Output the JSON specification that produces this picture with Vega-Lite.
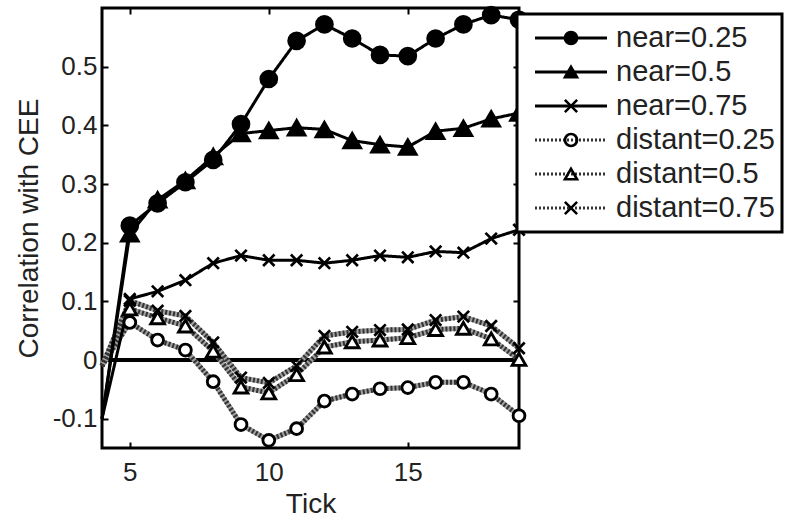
{
  "$schema": "https://vega.github.io/schema/vega-lite/v6.json",
  "width": 417,
  "height": 440,
  "autosize": {"type": "none"},
  "padding": {"left": 102, "top": 8, "right": 273, "bottom": 76},
  "config": {
    "font": "Liberation Sans",
    "view": {"stroke": "black", "strokeWidth": 3},
    "legend": {"strokeWidth": 3}
  },
  "data": {"values": [
    {"t":4,"v":-0.1,"series":"near=0.25","group":"near"},
    {"t":5,"v":0.229,"series":"near=0.25","group":"near"},
    {"t":6,"v":0.267,"series":"near=0.25","group":"near"},
    {"t":7,"v":0.303,"series":"near=0.25","group":"near"},
    {"t":8,"v":0.341,"series":"near=0.25","group":"near"},
    {"t":9,"v":0.402,"series":"near=0.25","group":"near"},
    {"t":10,"v":0.479,"series":"near=0.25","group":"near"},
    {"t":11,"v":0.544,"series":"near=0.25","group":"near"},
    {"t":12,"v":0.572,"series":"near=0.25","group":"near"},
    {"t":13,"v":0.548,"series":"near=0.25","group":"near"},
    {"t":14,"v":0.520,"series":"near=0.25","group":"near"},
    {"t":15,"v":0.518,"series":"near=0.25","group":"near"},
    {"t":16,"v":0.548,"series":"near=0.25","group":"near"},
    {"t":17,"v":0.572,"series":"near=0.25","group":"near"},
    {"t":18,"v":0.588,"series":"near=0.25","group":"near"},
    {"t":19,"v":0.580,"series":"near=0.25","group":"near"},
    {"t":4,"v":-0.1,"series":"near=0.5","group":"near"},
    {"t":5,"v":0.215,"series":"near=0.5","group":"near"},
    {"t":6,"v":0.273,"series":"near=0.5","group":"near"},
    {"t":7,"v":0.306,"series":"near=0.5","group":"near"},
    {"t":8,"v":0.347,"series":"near=0.5","group":"near"},
    {"t":9,"v":0.386,"series":"near=0.5","group":"near"},
    {"t":10,"v":0.391,"series":"near=0.5","group":"near"},
    {"t":11,"v":0.396,"series":"near=0.5","group":"near"},
    {"t":12,"v":0.393,"series":"near=0.5","group":"near"},
    {"t":13,"v":0.374,"series":"near=0.5","group":"near"},
    {"t":14,"v":0.367,"series":"near=0.5","group":"near"},
    {"t":15,"v":0.363,"series":"near=0.5","group":"near"},
    {"t":16,"v":0.390,"series":"near=0.5","group":"near"},
    {"t":17,"v":0.395,"series":"near=0.5","group":"near"},
    {"t":18,"v":0.411,"series":"near=0.5","group":"near"},
    {"t":19,"v":0.421,"series":"near=0.5","group":"near"},
    {"t":4,"v":-0.1,"series":"near=0.75","group":"near"},
    {"t":5,"v":0.104,"series":"near=0.75","group":"near"},
    {"t":6,"v":0.117,"series":"near=0.75","group":"near"},
    {"t":7,"v":0.136,"series":"near=0.75","group":"near"},
    {"t":8,"v":0.165,"series":"near=0.75","group":"near"},
    {"t":9,"v":0.178,"series":"near=0.75","group":"near"},
    {"t":10,"v":0.170,"series":"near=0.75","group":"near"},
    {"t":11,"v":0.170,"series":"near=0.75","group":"near"},
    {"t":12,"v":0.165,"series":"near=0.75","group":"near"},
    {"t":13,"v":0.170,"series":"near=0.75","group":"near"},
    {"t":14,"v":0.178,"series":"near=0.75","group":"near"},
    {"t":15,"v":0.175,"series":"near=0.75","group":"near"},
    {"t":16,"v":0.185,"series":"near=0.75","group":"near"},
    {"t":17,"v":0.183,"series":"near=0.75","group":"near"},
    {"t":18,"v":0.207,"series":"near=0.75","group":"near"},
    {"t":19,"v":0.222,"series":"near=0.75","group":"near"},
    {"t":4,"v":-0.01,"series":"distant=0.25","group":"distant"},
    {"t":5,"v":0.064,"series":"distant=0.25","group":"distant"},
    {"t":6,"v":0.034,"series":"distant=0.25","group":"distant"},
    {"t":7,"v":0.017,"series":"distant=0.25","group":"distant"},
    {"t":8,"v":-0.037,"series":"distant=0.25","group":"distant"},
    {"t":9,"v":-0.110,"series":"distant=0.25","group":"distant"},
    {"t":10,"v":-0.137,"series":"distant=0.25","group":"distant"},
    {"t":11,"v":-0.117,"series":"distant=0.25","group":"distant"},
    {"t":12,"v":-0.070,"series":"distant=0.25","group":"distant"},
    {"t":13,"v":-0.058,"series":"distant=0.25","group":"distant"},
    {"t":14,"v":-0.049,"series":"distant=0.25","group":"distant"},
    {"t":15,"v":-0.047,"series":"distant=0.25","group":"distant"},
    {"t":16,"v":-0.038,"series":"distant=0.25","group":"distant"},
    {"t":17,"v":-0.038,"series":"distant=0.25","group":"distant"},
    {"t":18,"v":-0.058,"series":"distant=0.25","group":"distant"},
    {"t":19,"v":-0.095,"series":"distant=0.25","group":"distant"},
    {"t":4,"v":-0.01,"series":"distant=0.5","group":"distant"},
    {"t":5,"v":0.087,"series":"distant=0.5","group":"distant"},
    {"t":6,"v":0.072,"series":"distant=0.5","group":"distant"},
    {"t":7,"v":0.058,"series":"distant=0.5","group":"distant"},
    {"t":8,"v":0.015,"series":"distant=0.5","group":"distant"},
    {"t":9,"v":-0.046,"series":"distant=0.5","group":"distant"},
    {"t":10,"v":-0.056,"series":"distant=0.5","group":"distant"},
    {"t":11,"v":-0.025,"series":"distant=0.5","group":"distant"},
    {"t":12,"v":0.022,"series":"distant=0.5","group":"distant"},
    {"t":13,"v":0.031,"series":"distant=0.5","group":"distant"},
    {"t":14,"v":0.034,"series":"distant=0.5","group":"distant"},
    {"t":15,"v":0.038,"series":"distant=0.5","group":"distant"},
    {"t":16,"v":0.052,"series":"distant=0.5","group":"distant"},
    {"t":17,"v":0.054,"series":"distant=0.5","group":"distant"},
    {"t":18,"v":0.036,"series":"distant=0.5","group":"distant"},
    {"t":19,"v":0.001,"series":"distant=0.5","group":"distant"},
    {"t":4,"v":-0.01,"series":"distant=0.75","group":"distant"},
    {"t":5,"v":0.101,"series":"distant=0.75","group":"distant"},
    {"t":6,"v":0.084,"series":"distant=0.75","group":"distant"},
    {"t":7,"v":0.075,"series":"distant=0.75","group":"distant"},
    {"t":8,"v":0.030,"series":"distant=0.75","group":"distant"},
    {"t":9,"v":-0.030,"series":"distant=0.75","group":"distant"},
    {"t":10,"v":-0.039,"series":"distant=0.75","group":"distant"},
    {"t":11,"v":-0.010,"series":"distant=0.75","group":"distant"},
    {"t":12,"v":0.041,"series":"distant=0.75","group":"distant"},
    {"t":13,"v":0.048,"series":"distant=0.75","group":"distant"},
    {"t":14,"v":0.051,"series":"distant=0.75","group":"distant"},
    {"t":15,"v":0.052,"series":"distant=0.75","group":"distant"},
    {"t":16,"v":0.068,"series":"distant=0.75","group":"distant"},
    {"t":17,"v":0.074,"series":"distant=0.75","group":"distant"},
    {"t":18,"v":0.058,"series":"distant=0.75","group":"distant"},
    {"t":19,"v":0.020,"series":"distant=0.75","group":"distant"}
  ]},
  "resolve": {"axis": {"x": "independent", "y": "independent"}},
  "layer": [
    {
      "mark": {"type": "rule", "color": "black", "strokeWidth": 2.5},
      "encoding": {
        "y": {"datum": 0, "type": "quantitative", "scale": {"domain": [-0.15, 0.6], "nice": false, "zero": false}, "axis": null}
      }
    },
    {
      "transform": [{"filter": "datum.group == 'distant'"}],
      "mark": {"type": "line", "color": "#a0a0a0", "strokeWidth": 5},
      "encoding": {
        "x": {"field": "t", "type": "quantitative", "scale": {"domain": [4, 19], "nice": false, "zero": false}, "axis": null},
        "y": {"field": "v", "type": "quantitative", "scale": {"domain": [-0.15, 0.6], "nice": false, "zero": false}, "axis": null},
        "detail": {"field": "series"}
      }
    },
    {
      "transform": [{"filter": "datum.group == 'distant'"}],
      "mark": {"type": "line", "strokeWidth": 5},
      "encoding": {
        "x": {"field": "t", "type": "quantitative", "axis": null},
        "y": {"field": "v", "type": "quantitative", "axis": null},
        "color": {"field": "series", "type": "nominal",
          "scale": {"domain": ["near=0.25","near=0.5","near=0.75","distant=0.25","distant=0.5","distant=0.75"], "range": ["black","black","black","#333333","#333333","#333333"]},
          "legend": {"orient": "none", "legendX": 415, "legendY": 6, "title": null, "symbolType": "stroke", "symbolSize": 5184, "symbolStrokeWidth": 3, "symbolOffset": 9.5, "labelOffset": 7.5, "labelFontSize": 29, "labelColor": "#222222", "labelLimit": 400, "clipHeight": 34, "rowPadding": 0, "padding": 7, "fillColor": "white", "strokeColor": "black"}},
        "strokeDash": {"field": "series", "type": "nominal",
          "scale": {"domain": ["near=0.25","near=0.5","near=0.75","distant=0.25","distant=0.5","distant=0.75"], "range": [[1,0],[1,0],[1,0],[2,2],[2,2],[2,2]]},
          "legend": {"orient": "none", "legendX": 415, "legendY": 6, "title": null, "symbolType": "stroke", "symbolSize": 5184, "symbolStrokeWidth": 3, "symbolOffset": 9.5, "labelOffset": 7.5, "labelFontSize": 29, "labelColor": "#222222", "labelLimit": 400, "clipHeight": 34, "rowPadding": 0, "padding": 7, "fillColor": "white", "strokeColor": "black"}}
      }
    },
    {
      "transform": [{"filter": "datum.group == 'near'"}],
      "mark": {"type": "line", "strokeWidth": 3},
      "encoding": {
        "x": {"field": "t", "type": "quantitative",
          "axis": {"orient": "bottom", "values": [5, 10, 15], "title": "Tick", "grid": false, "domain": false, "tickSize": -6, "tickWidth": 2, "tickColor": "black", "labelFontSize": 26, "labelPadding": 17, "labelColor": "#222222", "labelFlush": false, "titleFontSize": 28, "titleFontWeight": "normal", "titleColor": "#222222", "titlePadding": 5}},
        "y": {"field": "v", "type": "quantitative",
          "axis": {"orient": "left", "values": [-0.1, 0, 0.1, 0.2, 0.3, 0.4, 0.5], "labelExpr": "replace(format(datum.value, '.1~f'), '\u2212', '-')", "title": "Correlation with CEE", "grid": false, "domain": false, "tickSize": -6, "tickWidth": 2, "tickColor": "black", "labelFontSize": 26, "labelPadding": 11, "labelColor": "#222222", "labelFlush": false, "labelOverlap": false, "titleFontSize": 28, "titleFontWeight": "normal", "titleColor": "#222222", "titlePadding": 9}},
        "color": {"field": "series", "type": "nominal"},
        "strokeDash": {"field": "series", "type": "nominal"}
      }
    },
    {
      "transform": [{"filter": "datum.series == 'distant=0.25' && datum.t >= 5"}],
      "mark": {"type": "point", "shape": "circle", "filled": true, "color": "white", "size": 110, "opacity": 1},
      "encoding": {
        "x": {"field": "t", "type": "quantitative", "axis": null},
        "y": {"field": "v", "type": "quantitative", "axis": null}
      }
    },
    {
      "transform": [{"filter": "datum.series == 'distant=0.5' && datum.t >= 5"}],
      "mark": {"type": "point", "shape": "triangle-up", "filled": true, "color": "white", "size": 150, "opacity": 1},
      "encoding": {
        "x": {"field": "t", "type": "quantitative", "axis": null},
        "y": {"field": "v", "type": "quantitative", "axis": null}
      }
    },
    {
      "transform": [{"filter": "datum.t >= 5"}],
      "mark": {"type": "point", "filled": true, "color": "black", "stroke": "black", "strokeWidth": 2.7, "opacity": 1},
      "encoding": {
        "x": {"field": "t", "type": "quantitative",
          "axis": {"orient": "top", "values": [5, 10, 15], "labels": false, "title": null, "grid": false, "domain": false, "tickSize": -6, "tickWidth": 2, "tickColor": "black"}},
        "y": {"field": "v", "type": "quantitative",
          "axis": {"orient": "right", "values": [-0.1, 0, 0.1, 0.2, 0.3, 0.4, 0.5], "labels": false, "title": null, "grid": false, "domain": false, "tickSize": -6, "tickWidth": 2, "tickColor": "black"}},
        "shape": {"field": "series", "type": "nominal",
          "sort": ["near=0.25","near=0.5","near=0.75","distant=0.25","distant=0.5","distant=0.75"],
          "scale": {"range": ["circle", "triangle-up", "M-1,-1L1,1M-1,1L1,-1", "M1,0A1,1 0 1,1 -1,0A1,1 0 1,1 1,0Z M0.97,0A0.97,0.97 0 1,0 -0.97,0A0.97,0.97 0 1,0 0.97,0Z", "M0,-0.866L-1,0.866L1,0.866Z M0,-0.83L0.96,0.84L-0.96,0.84Z", "M-1,-1L1,1M-1,1L1,-1"]},
          "legend": {"orient": "none", "legendX": 415, "legendY": 6, "title": null, "symbolOffset": 32.5, "symbolSize": 150, "symbolStrokeWidth": 2.5, "labelFontSize": 29, "labelOpacity": 0, "clipHeight": 34, "rowPadding": 0, "padding": 7}},
        "size": {"field": "series", "type": "nominal",
          "sort": ["near=0.25","near=0.5","near=0.75","distant=0.25","distant=0.5","distant=0.75"],
          "scale": {"type": "ordinal", "range": [256, 289, 130, 144, 196, 130]},
          "legend": null}
      }
    }
  ]
}
